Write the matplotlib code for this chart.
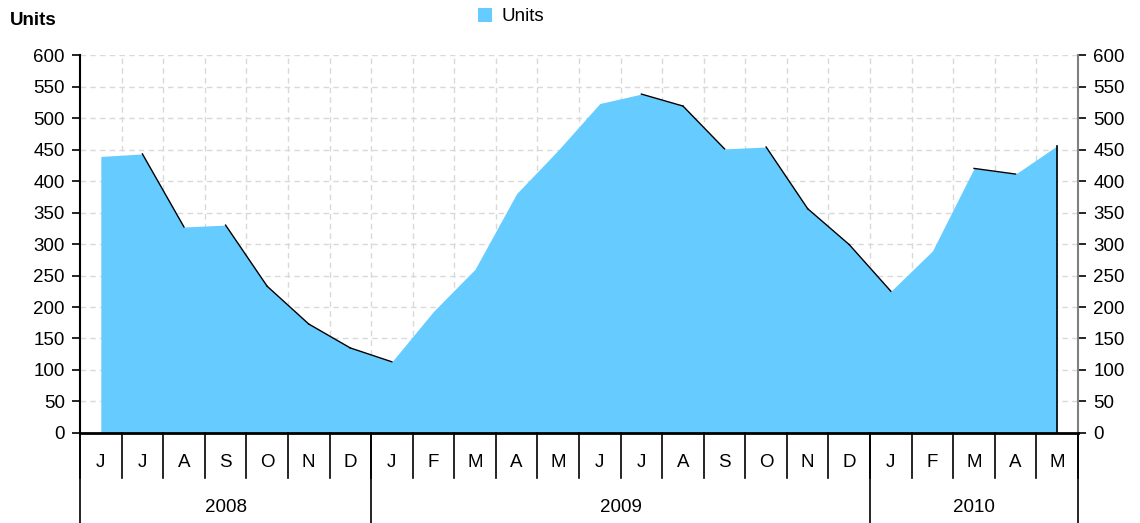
import numpy as np
import matplotlib.pyplot as plt
from matplotlib.patches import Patch

plt.rcParams['font.family'] = ['Liberation Sans', 'DejaVu Sans']

months = ['J', 'J', 'A', 'S', 'O', 'N', 'D',
          'J', 'F', 'M', 'A', 'M', 'J', 'J', 'A', 'S', 'O', 'N', 'D',
          'J', 'F', 'M', 'A', 'M']
years = ['2008', '2009', '2010']
months_per_year = [7, 12, 5]
units = [439, 443, 327, 330, 233, 173, 135,
         113, 193, 260, 380, 449, 523, 538, 519, 451, 454, 356, 299,
         225, 289, 420, 411, 456]

fill_col = '#66CCFF'
grid_col = '#d9d9d9'
fs = 13.5

fig = plt.figure(figsize=(11.4, 5.23), dpi=100)
ax = fig.add_axes([0.0702, 0.1721, 0.8754, 0.7227])

x = np.arange(len(units))
y = np.array(units)
ax.fill_between(x, 0, y, color=fill_col, linewidth=0, zorder=2)

# dark edge only on falling segments, as in the original
for i in range(len(y) - 1):
    if y[i + 1] < y[i]:
        ax.plot(x[i:i + 2], y[i:i + 2], color='black', lw=1.0, zorder=3)
ax.plot([x[-1], x[-1]], [0, y[-1]], color='black', lw=1.2, zorder=3)

ax.set_xlim(-0.5, len(units) - 0.5)
ax.set_ylim(0, 600)
ax.set_yticks(np.arange(0, 601, 50))

# grid
for b in np.arange(-0.5, len(units), 1.0)[1:-1]:
    ax.axvline(b, color=grid_col, ls=(0, (4, 3)), lw=1.0, zorder=1)
for v in np.arange(50, 601, 50):
    ax.axhline(v, color=grid_col, ls=(0, (4, 3)), lw=1.0, zorder=1)

# axes styling
ax.spines['top'].set_visible(False)
ax.spines['left'].set_color('black')
ax.spines['left'].set_linewidth(1.5)
ax.spines['right'].set_color('#808080')
ax.spines['right'].set_linewidth(1.5)
ax.spines['bottom'].set_linewidth(2)
ax.spines['bottom'].set_zorder(4)
ax.tick_params(axis='y', which='both', left=True, right=True, labelleft=True,
               labelright=True, direction='out', length=6, width=1.2,
               labelsize=fs, pad=5)
for t in ax.yaxis.get_ticklines()[1::2]:
    t.set_color('#808080')
ax.set_xticks([])

# category axis drawn by hand below the plot
tr = ax.get_xaxis_transform()
for b in np.arange(-0.5, len(units), 1.0):
    ax.plot([b, b], [0, -0.12], color='black', lw=1.2, transform=tr, clip_on=False)
for i, m in enumerate(months):
    ax.text(i, -0.079, m, transform=tr, ha='center', va='center', fontsize=fs)

start = -0.5
for yr, n in zip(years, months_per_year):
    ax.plot([start, start], [0, -0.24], color='black', lw=1.2, transform=tr, clip_on=False)
    ax.text(start + n / 2, -0.198, yr, transform=tr, ha='center', va='center', fontsize=fs)
    start += n
ax.plot([start, start], [0, -0.24], color='black', lw=1.2, transform=tr, clip_on=False)

fig.text(0.009, 0.96, 'Units', fontsize=fs, fontweight='bold', ha='left', va='center')

leg = fig.legend(handles=[Patch(facecolor=fill_col, edgecolor='none', label='Units')],
                 loc='center', bbox_to_anchor=(0.448, 0.968), frameon=False,
                 fontsize=fs, handlelength=0.75, handleheight=0.75, handletextpad=0.5)

fig.savefig('out.png', dpi=100)
